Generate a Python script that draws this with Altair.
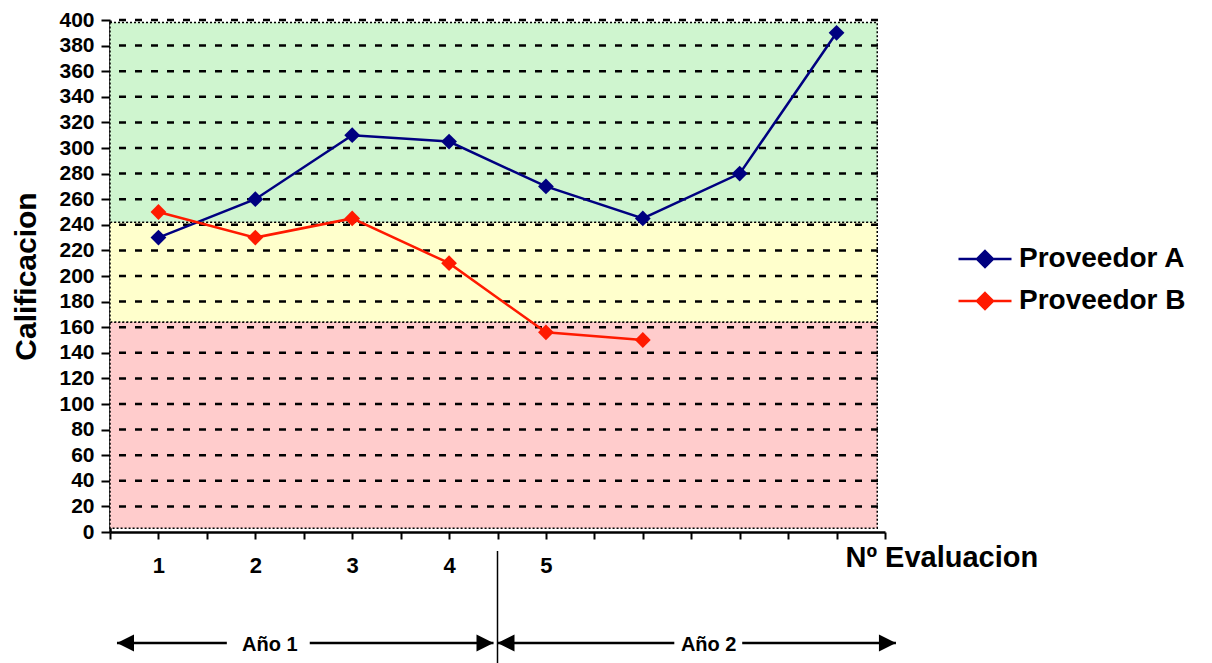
import altair as alt
import pandas as pd

FONT = "Liberation Sans"

# ---- data ----
evaluations = [1, 2, 3, 4, 5, 6, 7, 8]
proveedor_a = [230, 260, 310, 305, 270, 245, 280, 390]
proveedor_b = [250, 230, 245, 210, 156, 150]
series_names = ["Proveedor A", "Proveedor B"]
series_colors = ["#000080", "#ff1a00"]

band_low = [3, 164, 242]
band_high = [164, 242, 398]
band_colors = ["#ffcccc", "#ffffcc", "#cff5cf"]
band_x_start = [0.5, 0.5, 0.5]
band_x_end = [8.42, 8.42, 8.42]

grid_values = list(range(20, 401, 20))
y_ticks = list(range(0, 401, 20))
x_ticks = [0.5 + 0.5 * i for i in range(17)]

year_labels = ["Año 1", "Año 2"]
year_label_x = [2.15, 6.68]
arrow_seg_start = [0.572, 2.562, 4.50, 7.026]
arrow_seg_end = [1.706, 4.459, 6.325, 8.613]
arrow_tip_x = [0.572, 4.459, 4.50, 8.613]
arrow_tip_dir = ["left", "right", "left", "right"]
divider_x = [4.5]

# ---- tables ----
rows = []
for e, v in zip(evaluations, proveedor_a):
    rows.append({"eval": e, "score": v, "serie": series_names[0]})
for e, v in zip(evaluations, proveedor_b):
    rows.append({"eval": e, "score": v, "serie": series_names[1]})
series_df = pd.DataFrame(rows)

bands_df = pd.DataFrame({"lo": band_low, "hi": band_high, "col": band_colors,
                         "x0": band_x_start, "x1": band_x_end})
grid_df = pd.DataFrame({"v": grid_values})
labels_df = pd.DataFrame({"t": year_labels, "x": year_label_x})
segs_df = pd.DataFrame({"x0": arrow_seg_start, "x1": arrow_seg_end})
tips_df = pd.DataFrame({"x": arrow_tip_x, "d": arrow_tip_dir})
div_df = pd.DataFrame({"x": divider_x})

# ---- scales & axes ----
x_scale = alt.Scale(domain=[0.5, 8.5], nice=False, zero=False)
y_scale = alt.Scale(domain=[0, 400], nice=False, zero=False)

x_axis = alt.Axis(
    values=x_ticks,
    labelExpr="datum.value >= 1 && datum.value <= 5 && datum.value % 1 == 0 ? '' + datum.value : ''",
    tickSize=7, tickWidth=2, tickColor="black",
    domainColor="black", domainWidth=2.5,
    labelFont=FONT, labelFontSize=22, labelFontWeight="bold", labelColor="black",
    labelPadding=16, labelFlush=False, labelOverlap=False,
    grid=False,
    title="Nº Evaluacion", titleFont=FONT, titleFontSize=29, titleFontWeight="bold",
    titleColor="black", titleX=735, titleY=25, titleAlign="left", titleBaseline="middle",
)
y_axis = alt.Axis(
    values=y_ticks, format="d",
    tickSize=9, tickWidth=2, tickColor="black",
    domainColor="black", domainWidth=2.5,
    labelFont=FONT, labelFontSize=21, labelFontWeight="bold", labelColor="black",
    labelPadding=7, labelFlush=False, labelOverlap=False,
    grid=False,
    title="Calificacion", titleFont=FONT, titleFontSize=30, titleFontWeight="bold",
    titleColor="black", titleX=-84, titleY=256, titleAngle=270,
    titleAlign="center", titleBaseline="middle",
)

legend_path = "M-1,0L1,0M0,-0.3L0.3,0L0,0.3L-0.3,0Z"
legend = alt.Legend(
    orient="none", legendX=847, legendY=211, title=None, padding=0,
    symbolType=legend_path, symbolSize=2809, symbolStrokeWidth=2.5, symbolOpacity=1,
    labelFont=FONT, labelFontSize=28, labelFontWeight="bold", labelColor="black",
    labelOffset=6, labelLimit=400, rowPadding=-11,
)
serie_scale_stroke = alt.Scale(domain=series_names, range=series_colors)
serie_scale_fill = alt.Scale(domain=series_names, range=series_colors)

# ---- layers ----
bands = alt.Chart(bands_df).mark_rect(
    stroke="black", strokeDash=[2, 2], strokeWidth=1.5
).encode(
    x=alt.X("x0:Q", scale=x_scale, axis=x_axis),
    x2="x1:Q",
    y=alt.Y("lo:Q", scale=y_scale, axis=y_axis),
    y2="hi:Q",
    fill=alt.Fill("col:N", scale=None),
)

grid = alt.Chart(grid_df).mark_rule(
    color="black", strokeDash=[7, 9], strokeDashOffset=9, strokeWidth=2.5
).encode(
    y=alt.Y("v:Q", scale=y_scale, axis=y_axis),
)

lines = alt.Chart(series_df).mark_line(strokeWidth=2.5).encode(
    x=alt.X("eval:Q", scale=x_scale, axis=x_axis),
    y=alt.Y("score:Q", scale=y_scale, axis=y_axis),
    stroke=alt.Stroke("serie:N", scale=serie_scale_stroke, legend=legend),
)
points = alt.Chart(series_df).mark_point(
    shape="diamond", filled=True, size=250, opacity=1
).encode(
    x=alt.X("eval:Q", scale=x_scale, axis=x_axis),
    y=alt.Y("score:Q", scale=y_scale, axis=y_axis),
    fill=alt.Fill("serie:N", scale=serie_scale_fill, legend=legend),
)

divider = alt.Chart(div_df).mark_rule(color="black", strokeWidth=1.5).encode(
    x=alt.X("x:Q", scale=x_scale, axis=x_axis),
    y=alt.value(531), y2=alt.value(645),
)
segs = alt.Chart(segs_df).mark_rule(color="black", strokeWidth=2.5).encode(
    x=alt.X("x0:Q", scale=x_scale, axis=x_axis),
    x2="x1:Q",
    y=alt.value(623),
)
tips = alt.Chart(tips_df).mark_point(filled=True, color="black", size=1156, opacity=1).encode(
    x=alt.X("x:Q", scale=x_scale, axis=x_axis),
    y=alt.value(623),
    shape=alt.Shape("d:N", scale=alt.Scale(
        domain=["left", "right"],
        range=["M0,0L1,-0.5L1,0.5Z", "M0,0L-1,-0.5L-1,0.5Z"]), legend=None),
)
year_text = alt.Chart(labels_df).mark_text(
    font=FONT, fontSize=20, fontWeight="bold", color="black", baseline="middle", align="center"
).encode(
    x=alt.X("x:Q", scale=x_scale, axis=x_axis),
    y=alt.value(625),
    text="t:N",
)

chart = alt.layer(bands, grid, lines, points, divider, segs, tips, year_text).properties(
    width=775, height=512,
    padding={"left": 102, "top": 12, "right": 319, "bottom": 131},
    autosize=alt.AutoSizeParams(type="none"),
    background="white",
).configure_view(stroke=None)

chart.save("out.html", embed_options={"renderer": "svg", "actions": False})
